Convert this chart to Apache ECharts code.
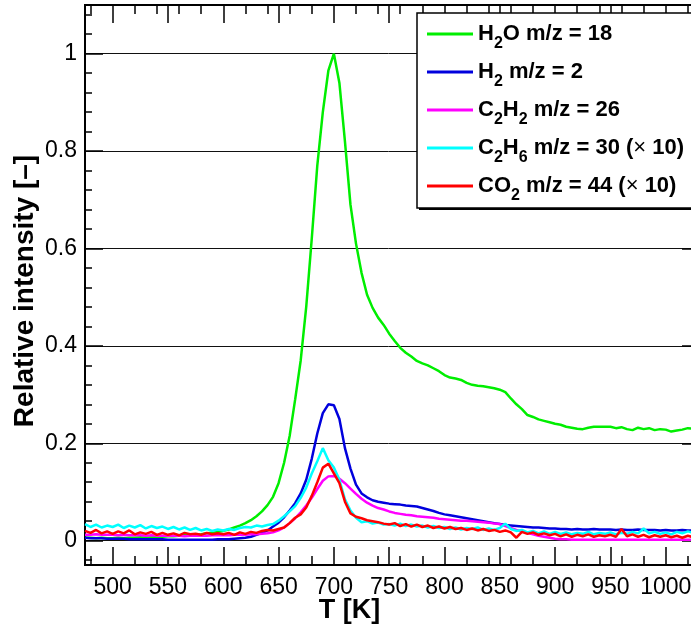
<!DOCTYPE html>
<html>
<head>
<meta charset="utf-8">
<script src="https://cdn.jsdelivr.net/npm/echarts@6/dist/echarts.min.js"></script>
<style>
html,body{margin:0;padding:0;background:#fff;}
#chart{width:691px;height:625px;}
</style>
</head>
<body>
<div id="chart"></div>
<script>
// Temperature grid [K]
const T = [475,480,485,490,495,
  500,505,510,515,520,525,530,535,540,545,
  550,555,560,565,570,575,580,585,590,595,
  600,605,610,615,620,625,630,635,640,645,
  650,655,660,665,670,675,680,685,690,695,
  700,705,710,715,720,725,730,735,740,745,
  750,755,760,765,770,775,780,785,790,795,
  800,805,810,815,820,825,830,835,840,845,
  850,855,860,865,870,875,880,885,890,895,
  900,905,910,915,920,925,930,935,940,945,
  950,955,960,965,970,975,980,985,990,995,
  1000,1005,1010,1015,1020,1025,1030];

const h2o = [0.006,0.006,0.005,0.006,0.005,
  0.005,0.006,0.005,0.006,0.006,0.007,0.006,0.007,0.008,0.008,
  0.009,0.009,0.010,0.011,0.011,0.012,0.013,0.015,0.016,0.018,
  0.020,0.023,0.027,0.031,0.036,0.042,0.050,0.060,0.073,0.090,
  0.118,0.160,0.215,0.290,0.370,0.480,0.620,0.770,0.880,0.965,
  1.000,0.940,0.820,0.690,0.610,0.550,0.505,0.478,0.458,0.443,
  0.425,0.410,0.396,0.386,0.378,0.369,0.364,0.360,0.354,0.348,
  0.340,0.335,0.333,0.330,0.324,0.320,0.318,0.317,0.315,0.313,
  0.310,0.305,0.292,0.280,0.270,0.258,0.254,0.249,0.246,0.243,
  0.240,0.238,0.234,0.232,0.230,0.229,0.232,0.234,0.234,0.234,
  0.234,0.231,0.233,0.229,0.227,0.232,0.229,0.231,0.227,0.229,
  0.228,0.224,0.226,0.228,0.231,0.230,0.231];

const h2 = [0.006,0.005,0.005,0.005,0.004,
  0.004,0.004,0.004,0.003,0.003,0.003,0.003,0.003,0.003,0.003,
  0.002,0.002,0.002,0.002,0.002,0.002,0.002,0.002,0.002,0.003,
  0.003,0.003,0.004,0.005,0.006,0.008,0.012,0.016,0.021,0.029,
  0.037,0.048,0.062,0.077,0.097,0.125,0.168,0.220,0.262,0.280,
  0.278,0.250,0.190,0.148,0.115,0.097,0.089,0.083,0.080,0.078,
  0.076,0.075,0.074,0.072,0.071,0.070,0.067,0.064,0.061,0.057,
  0.054,0.052,0.050,0.048,0.046,0.044,0.042,0.040,0.038,0.036,
  0.034,0.032,0.031,0.030,0.029,0.028,0.027,0.027,0.026,0.025,
  0.025,0.024,0.024,0.023,0.024,0.023,0.023,0.024,0.023,0.023,
  0.023,0.022,0.023,0.022,0.022,0.023,0.022,0.022,0.022,0.021,
  0.022,0.021,0.021,0.022,0.021,0.021,0.021];

const c2h2 = [0.012,0.012,0.013,0.012,0.012,
  0.012,0.011,0.012,0.011,0.011,0.011,0.010,0.011,0.010,0.010,
  0.010,0.010,0.010,0.009,0.010,0.010,0.010,0.010,0.011,0.011,
  0.011,0.011,0.012,0.012,0.012,0.013,0.013,0.014,0.015,0.017,
  0.021,0.027,0.036,0.046,0.058,0.072,0.088,0.106,0.123,0.132,
  0.133,0.127,0.118,0.107,0.096,0.086,0.078,0.072,0.067,0.064,
  0.060,0.057,0.055,0.053,0.052,0.050,0.049,0.048,0.047,0.045,
  0.044,0.043,0.042,0.041,0.041,0.040,0.039,0.038,0.037,0.035,
  0.034,0.030,0.026,0.022,0.019,0.016,0.013,0.010,0.008,0.006,
  0.004,0.003,0.003,0.002,0.002,0.002,0.002,0.002,0.002,0.002,
  0.002,0.002,0.002,0.002,0.002,0.002,0.002,0.002,0.002,0.002,
  0.002,0.002,0.002,0.002,0.002,0.002,0.002];

const c2h6 = [0.034,0.028,0.033,0.027,0.031,
  0.028,0.033,0.026,0.031,0.027,0.032,0.025,0.030,0.026,0.029,
  0.024,0.028,0.023,0.027,0.022,0.026,0.021,0.024,0.020,0.023,
  0.021,0.024,0.022,0.026,0.028,0.027,0.031,0.029,0.032,0.034,
  0.041,0.050,0.060,0.071,0.088,0.109,0.138,0.163,0.190,0.165,
  0.150,0.125,0.085,0.062,0.047,0.038,0.040,0.035,0.037,0.033,
  0.034,0.031,0.035,0.030,0.033,0.029,0.031,0.027,0.030,0.026,
  0.028,0.024,0.027,0.023,0.026,0.024,0.027,0.022,0.025,0.022,
  0.026,0.035,0.024,0.020,0.022,0.017,0.020,0.015,0.019,0.014,
  0.018,0.014,0.017,0.013,0.016,0.014,0.018,0.013,0.016,0.014,
  0.017,0.013,0.016,0.014,0.018,0.015,0.025,0.015,0.018,0.014,
  0.017,0.013,0.018,0.015,0.019,0.016,0.018];

const co2 = [0.020,0.016,0.022,0.015,0.019,
  0.014,0.019,0.015,0.021,0.013,0.017,0.014,0.018,0.012,0.016,
  0.012,0.015,0.011,0.016,0.013,0.014,0.012,0.016,0.013,0.015,
  0.013,0.016,0.012,0.017,0.014,0.018,0.016,0.020,0.022,0.021,
  0.024,0.027,0.036,0.047,0.054,0.068,0.092,0.120,0.150,0.158,
  0.138,0.118,0.080,0.056,0.049,0.046,0.042,0.040,0.038,0.035,
  0.033,0.036,0.030,0.034,0.029,0.033,0.028,0.031,0.026,0.029,
  0.025,0.028,0.024,0.026,0.022,0.025,0.021,0.024,0.020,0.022,
  0.018,0.021,0.017,0.006,0.018,0.014,0.017,0.012,0.015,0.011,
  0.014,0.009,0.013,0.008,0.012,0.009,0.013,0.008,0.011,0.009,
  0.012,0.008,0.024,0.009,0.013,0.008,0.012,0.007,0.011,0.008,
  0.011,0.007,0.010,0.006,0.010,0.007,0.009];

const seriesNames = ['H2O','H2','C2H2','C2H6','CO2'];
const seriesColors = ['#00ee00','#0000dd','#ff00ff','#00ffff','#ff0000'];
const legendLabels = {
  'H2O': '{b|H}{s|2}{b|O m/z = 18}',
  'H2': '{b|H}{s|2}{b| m/z = 2}',
  'C2H2': '{b|C}{s|2}{b|H}{s|2}{b| m/z = 26}',
  'C2H6': '{b|C}{s|2}{b|H}{s|6}{b| m/z = 30 (}{x|\u00d7}{b| 10)}',
  'CO2': '{b|CO}{s|2}{b| m/z = 44 (}{x|\u00d7}{b| 10)}'
};

const xMajorTicks = [500,550,600,650,700,750,800,850,900,950,1000];
const xMinorTicks = [480,500,520,540,560,580,600,620,640,660,680,700,720,740,760,780,800,820,840,860,880,900,920,940,960,980,1000,1020];
const yMajorTicks = [0,0.2,0.4,0.6,0.8,1];
const yMinorTicks = [-0.04,0,0.04,0.08,0.12,0.16,0.2,0.24,0.28,0.32,0.36,0.4,0.44,0.48,0.52,0.56,0.6,0.64,0.68,0.72,0.76,0.8,0.84,0.88,0.92,0.96,1,1.04,1.08];

const X_MIN = 475, X_MAX = 1031, Y_MIN = -0.05, Y_MAX = 1.1;
const FONT = "'Liberation Sans', Arial, Helvetica, sans-serif";
const TICK_FONT = "'Liberation Sans Narrow', 'Arial Narrow', 'Liberation Sans', Arial, sans-serif";

function xAxisDef(pos, ticks, len, withLabels) {
  return {
    type: 'value', position: pos, min: X_MIN, max: X_MAX,
    axisLine: { show: true, onZero: false, lineStyle: { color: '#000', width: 2 } },
    axisTick: { show: true, inside: true, length: len, customValues: ticks, lineStyle: { color: '#000', width: 1.5 } },
    axisLabel: withLabels ? { show: true, customValues: xMajorTicks, fontSize: 23, color: '#000', fontFamily: TICK_FONT, margin: 11, formatter: v => String(v) } : { show: false },
    splitLine: { show: false }
  };
}
function yAxisDef(pos, ticks, len, withLabels) {
  return {
    type: 'value', position: pos, min: Y_MIN, max: Y_MAX,
    axisLine: { show: true, onZero: false, lineStyle: { color: '#000', width: 2 } },
    axisTick: { show: true, inside: true, length: len, customValues: ticks, lineStyle: { color: '#000', width: 1.5 } },
    axisLabel: withLabels ? { show: true, customValues: yMajorTicks, fontSize: 23, color: '#000', fontFamily: TICK_FONT, margin: 8, formatter: v => String(v) } : { show: false },
    splitLine: withLabels ? { show: true, lineStyle: { color: '#111', width: 1 } } : { show: false }
  };
}

const xAxes = [
  xAxisDef('bottom', xMajorTicks, 18, true),
  xAxisDef('bottom', xMinorTicks, 9, false),
  xAxisDef('top', xMajorTicks, 18, false),
  xAxisDef('top', xMinorTicks, 9, false)
];
xAxes[0].name = 'T [K]';
xAxes[0].nameLocation = 'middle';
xAxes[0].nameGap = 32;
xAxes[0].nameMoveOverlap = false;
xAxes[0].nameTextStyle = { fontSize: 27, fontWeight: 'bold', color: '#000', fontFamily: FONT, padding: [0, 86, 0, 0] };

const yAxes = [
  yAxisDef('left', yMajorTicks, 18, true),
  yAxisDef('left', yMinorTicks, 7, false),
  yAxisDef('right', yMajorTicks, 18, false),
  yAxisDef('right', yMinorTicks, 7, false)
];
yAxes[0].name = 'Relative intensity [\u2013]';
yAxes[0].nameLocation = 'middle';
yAxes[0].nameGap = 46;
yAxes[0].nameMoveOverlap = false;
yAxes[0].nameTextStyle = { fontSize: 28, fontWeight: 'bold', color: '#000', fontFamily: FONT, padding: [0, 12, 0, 0] };

const allData = [h2o, h2, c2h2, c2h6, co2];
const series = seriesNames.map((name, k) => ({
  name: name,
  type: 'line',
  xAxisIndex: 0, yAxisIndex: 0,
  data: T.map((t, i) => [t, allData[k][i]]),
  showSymbol: false,
  symbol: 'none',
  lineStyle: { color: seriesColors[k], width: 2.5 },
  itemStyle: { color: seriesColors[k] },
  animation: false,
  z: 2
}));

const chart = echarts.init(document.getElementById('chart'), null, { renderer: 'canvas' });
chart.setOption({
  backgroundColor: '#fff',
  animation: false,
  grid: { left: 85, top: 5, width: 615, height: 560, show: false, containLabel: false, outerBoundsMode: 'none' },
  xAxis: xAxes,
  yAxis: yAxes,
  series: series,
  legend: {
    orient: 'vertical', left: 427, top: 16, padding: 0,
    itemWidth: 46, itemHeight: 3, itemGap: 2, icon: 'rect',
    data: seriesNames,
    formatter: n => legendLabels[n],
    textStyle: {
      color: '#000', fontFamily: FONT,
      rich: {
        b: { fontSize: 22, fontWeight: 'bold', fontFamily: FONT, color: '#000', lineHeight: 36 },
        x: { fontSize: 22, fontWeight: 'normal', fontFamily: FONT, color: '#000', lineHeight: 36 },
        s: { fontSize: 16, fontWeight: 'bold', fontFamily: FONT, color: '#000', lineHeight: 16, padding: [20, 0, 0, 0] }
      }
    },
    selectedMode: false,
    z: 5
  },
  graphic: [
    { type: 'rect', shape: { x: 419, y: 15, width: 300, height: 195 }, style: { fill: '#000' }, z: 3 },
    { type: 'rect', shape: { x: 417, y: 13, width: 300, height: 195 }, style: { fill: '#fff', stroke: '#000', lineWidth: 1.5 }, z: 3 }
  ]
});
</script>
</body>
</html>
